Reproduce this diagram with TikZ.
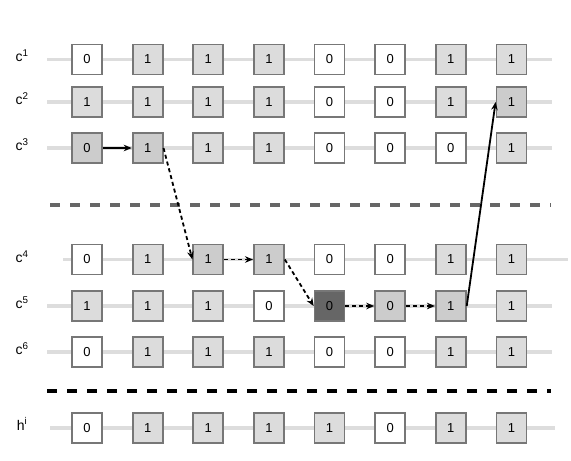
\documentclass[tikz,border=0pt]{standalone}
\usepackage{fontspec}
\setmainfont{Liberation Sans}
\usetikzlibrary{arrows.meta}
\definecolor{boxborder}{HTML}{777777}
\definecolor{lightfill}{HTML}{DCDCDC}
\definecolor{hlfill}{HTML}{CCCCCC}
\definecolor{darkfill}{HTML}{666666}
\definecolor{trackgray}{HTML}{DDDDDD}
\definecolor{sepgray}{HTML}{666666}
\begin{document}
\begin{tikzpicture}[x=1pt,y=-1pt,
  cell/.style={draw=boxborder, line width=1.8pt, minimum size=30pt, inner sep=0pt,
               font=\fontsize{13}{15}\selectfont, fill=white},
  cw/.style={fill=white},
  cg/.style={fill=lightfill},
  ch/.style={fill=hlfill},
  cd/.style={fill=darkfill},
  track/.style={draw=trackgray, line width=3.5pt},
  lbl/.style={font=\fontsize{14}{16}\selectfont, inner sep=0pt},
  arr/.style={draw=black, line width=1.8pt, -{Stealth[length=8pt,width=6.5pt]}},
  dotarr/.style={arr, dash pattern=on 4pt off 3pt},
  sep/.style={line width=4pt, dash pattern=on 10pt off 10pt}
]
\useasboundingbox (0,0) rectangle (571,461);

\foreach \r/\y/\xs/\xe/\cells in {
  1/59.5/47/552/{cw/0,cg/1,cg/1,cg/1,cw/0,cw/0,cg/1,cg/1},
  2/102/47/552/{cg/1,cg/1,cg/1,cg/1,cw/0,cw/0,cg/1,ch/1},
  3/148/47/552/{ch/0,ch/1,cg/1,cg/1,cw/0,cw/0,cw/0,cg/1},
  4/259.5/63/568/{cw/0,cg/1,ch/1,ch/1,cw/0,cw/0,cg/1,cg/1},
  5/306/47/552/{cg/1,cg/1,cg/1,cw/0,cd/0,ch/0,ch/1,cg/1},
  6/352/47/552/{cw/0,cg/1,cg/1,cg/1,cw/0,cw/0,cg/1,cg/1},
  7/428/50/555/{cw/0,cg/1,cg/1,cg/1,cg/1,cw/0,cg/1,cg/1}}
{
  \draw[track] (\xs,\y) -- (\xe,\y);
  \foreach \s/\v [count=\i] in \cells {
    \node[cell,\s] (r\r-\i) at ({87+60.64*(\i-1)},\y) {\v};
  }
}

% row labels
\node[lbl] (l1) at (22,56) {c\textsuperscript{1}};
\node[lbl] (l2) at (22,99) {c\textsuperscript{2}};
\node[lbl] (l3) at (22,145) {c\textsuperscript{3}};
\node[lbl] (l4) at (22,256.5) {c\textsuperscript{4}};
\node[lbl] (l5) at (22,303) {c\textsuperscript{5}};
\node[lbl] (l6) at (22,349) {c\textsuperscript{6}};
\node[lbl] (l7) at (22,424) {h\textsuperscript{i}};

% separators
\coordinate (s1a) at (50,205);
\coordinate (s1b) at (551,205);
\coordinate (s2a) at (47,390.5);
\coordinate (s2b) at (551,390.5);
\draw[sep, draw=sepgray] (s1a) -- (s1b);
\draw[sep, draw=black] (s2a) -- (s2b);

% path arrows
\draw[arr] (r3-1) -- (r3-2);
\draw[dotarr] (r3-2.east) -- (r4-3.west);
\draw[dotarr] (r4-3) -- (r4-4);
\draw[dotarr] (r4-4.east) -- (r5-5.west);
\draw[dotarr] (r5-5) -- (r5-6);
\draw[dotarr] (r5-6) -- (r5-7);
\draw[arr] (r5-7.east) -- (r2-8.west);
\end{tikzpicture}
\end{document}
